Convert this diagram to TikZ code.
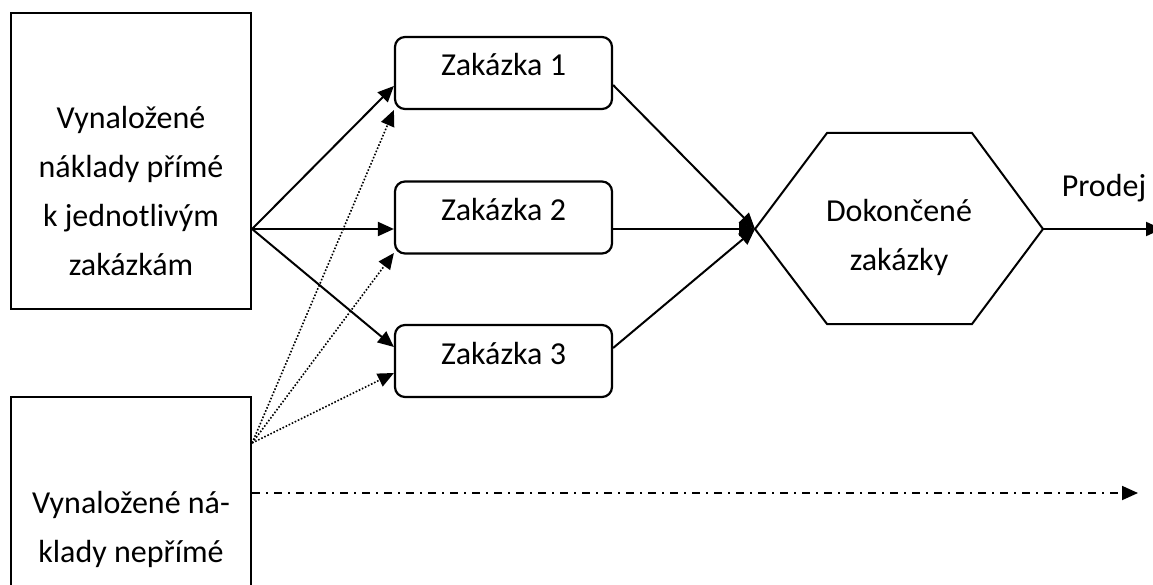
\documentclass[tikz,border=0pt]{standalone}
\usepackage{fontspec}
\setmainfont{Carlito}
\usetikzlibrary{arrows.meta}
\begin{document}
\begin{tikzpicture}[x=1pt,y=-1pt,
  every node/.style={font=\fontsize{32}{49}\selectfont},
  sqbox/.style={draw,line width=2.2pt,inner sep=0pt,minimum width=240pt},
  zbox/.style={draw,line width=2.2pt,rounded corners=10pt,minimum width=217pt,minimum height=72pt,inner sep=0pt,text height=10pt,text depth=4pt},
  conn/.style={line width=2pt,-{Triangle[length=16pt,width=14pt]}},
  dotconn/.style={conn,line width=1.6pt,dash pattern=on 1.6pt off 1.8pt},
  dashdot/.style={conn,line width=1.8pt,dash pattern=on 8pt off 6pt on 2pt off 6pt},
  hexline/.style={line width=2pt,line join=miter},
  txt/.style={anchor=base,inner sep=0pt}
]
\useasboundingbox (0,0) rectangle (1153,585);
\clip (0,0) rectangle (1153,585);

% left boxes
\node[sqbox,minimum height=296pt] (direct) at (131,161) {};
\node[txt] (directtxt) at (131,129) {\begin{tabular}[t]{@{}c@{}}Vynaložené\\náklady přímé\\k jednotlivým\\zakázkám\end{tabular}};
\node[sqbox,minimum height=220pt] (indirect) at (131,507) {};
\node[txt] (indirecttxt) at (131,513) {\begin{tabular}[t]{@{}c@{}}Vynaložené ná-\\klady nepřímé\end{tabular}};

% orders
\node[zbox] (z1) at (503.5,73) {Zakázka 1};
\node[zbox] (z2) at (503.5,217.5) {Zakázka 2};
\node[zbox] (z3) at (503.5,361) {Zakázka 3};

% hexagon
\coordinate (hexW) at (755,229);
\coordinate (hexNW) at (827,133);
\coordinate (hexNE) at (972,133);
\coordinate (hexE) at (1043,229);
\coordinate (hexSE) at (972,324);
\coordinate (hexSW) at (827,324);
\draw[hexline] (hexW) -- (hexNW) -- (hexNE) -- (hexE) -- (hexSE) -- (hexSW) -- cycle;
\node[txt] (hex) at (899,222) {\begin{tabular}[t]{@{}c@{}}Dokončené\\zakázky\end{tabular}};

% sources
\coordinate (dsrc) at ([yshift=-68pt]direct.east);
\coordinate (isrc) at ([yshift=64pt]indirect.east);
\coordinate (isrc2) at ([yshift=14pt]indirect.east);

% direct costs
\draw[conn] (dsrc) -- ([yshift=-13pt]z1.west);
\draw[conn] (dsrc) -- ([yshift=-11.5pt]z2.west);
\draw[conn] (dsrc) -- ([yshift=14pt]z3.west);

% indirect costs
\draw[dotconn] (isrc) -- ([yshift=-37pt]z1.west);
\draw[dotconn] (isrc) -- ([yshift=-35.5pt]z2.west);
\draw[dotconn] (isrc) -- ([yshift=-12pt]z3.west);

% orders to finished
\draw[conn] ([yshift=-12pt]z1.east) -- (hexW);
\draw[conn] ([yshift=-11.5pt]z2.east) -- (hexW);
\draw[conn] ([yshift=13pt]z3.east) -- (hexW);

% sale
\coordinate (saleend) at (1162,229);
\draw[conn] (hexE) -- (saleend);
\node[txt] (prodej) at (1104,197) {Prodej};

% indirect dash-dot
\coordinate (dashend) at (1138,493);
\draw[dashdot] (isrc2) -- (dashend);
\end{tikzpicture}
\end{document}
